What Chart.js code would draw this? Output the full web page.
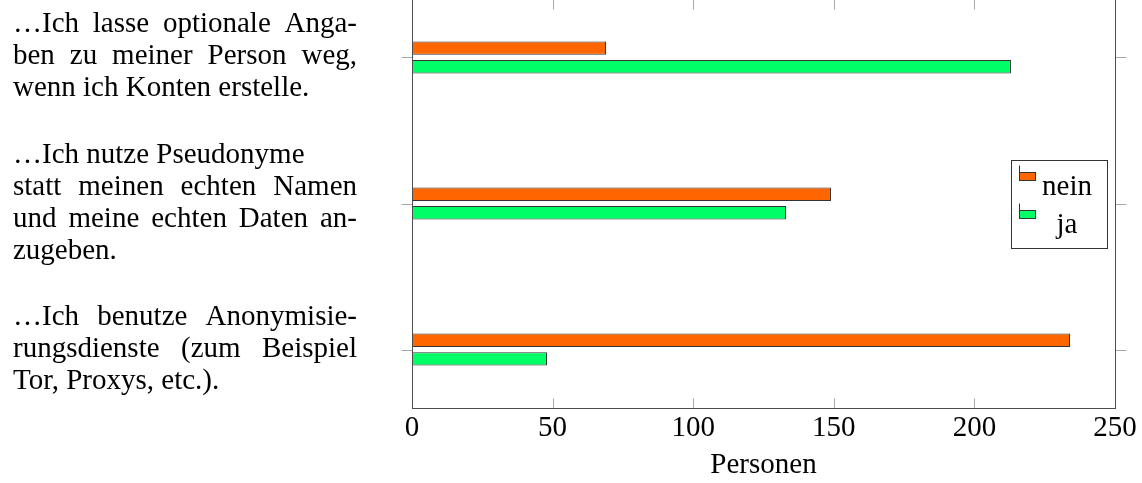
<!DOCTYPE html>
<html>
<head>
<meta charset="utf-8">
<script src="https://cdn.jsdelivr.net/npm/chart.js@4.4.0/dist/chart.umd.min.js"></script>
<style>
html, body { margin: 0; padding: 0; background: #fff; overflow: hidden; }
#wrap { position: relative; width: 1142px; height: 483px; overflow: hidden; }
#chart { position: absolute; left: 0; top: -1px; }
</style>
</head>
<body>
<div id="wrap"><canvas id="chart" width="1142" height="484"></canvas></div>
<script>
// Kategorien von oben nach unten, Zeilen wie im Original umbrochen
const categories = [
    ['\u2026Ich lasse optionale Anga-', 'ben zu meiner Person weg,', 'wenn ich Konten erstelle.'],
    ['\u2026Ich nutze Pseudonyme', 'statt meinen echten Namen', 'und meine echten Daten an-', 'zugeben.'],
    ['\u2026Ich benutze Anonymisie-', 'rungsdienste (zum Beispiel', 'Tor, Proxys, etc.).']
];
const neinValues = [69, 149, 234];
const jaValues = [213, 133, 48];
const xTicks = [0, 50, 100, 150, 200, 250];

const FONT = '"Liberation Serif", "DejaVu Serif", serif';
const FONT_SIZE = 29;
const LINE_H = 32;      // Zeilenabstand der Achsenbeschriftung links
const TEXT_LEFT = 13;   // linker Rand des Blocksatzes
const TEXT_WIDTH = 344; // Breite des Blocksatzes

// Index -> Punkt für die lineare Kategorie-Achse
const toPoints = vals => vals.map((v, i) => ({ x: v, y: i }));

// Rahmen und Teilstriche wie bei pgfplots
const framePlugin = {
    id: 'frame',
    afterDraw(chart) {
        const { ctx, chartArea: a, scales: { x, y } } = chart;
        const L = Math.round(a.left) + 0.5, R = Math.round(a.right) + 0.5;
        const T = Math.round(a.top) + 0.5, B = Math.round(a.bottom) + 0.5;
        ctx.save();
        ctx.lineWidth = 1;
        ctx.strokeStyle = '#a8a8a8';
        ctx.beginPath();
        x.ticks.forEach(t => {
            const px = Math.round(x.getPixelForValue(t.value)) + 0.5;
            ctx.moveTo(px, B); ctx.lineTo(px, B - 10);
            ctx.moveTo(px, T); ctx.lineTo(px, T + 10);
        });
        y.ticks.forEach(t => {
            const py = Math.round(y.getPixelForValue(t.value)) + 0.5;
            ctx.moveTo(L - 11, py); ctx.lineTo(L, py);
            ctx.moveTo(R, py); ctx.lineTo(R + 11, py);
        });
        ctx.stroke();
        ctx.strokeStyle = '#4d4d4d';
        ctx.strokeRect(L, T, R - L, B - T);
        ctx.restore();
    }
};

// Kategorietexte links im Blocksatz, an den Positionen der y-Achse
const labelPlugin = {
    id: 'blockLabels',
    afterDraw(chart) {
        const { ctx, scales: { y } } = chart;
        ctx.save();
        ctx.font = FONT_SIZE + 'px ' + FONT;
        ctx.fillStyle = '#000';
        ctx.textAlign = 'left';
        ctx.textBaseline = 'alphabetic';
        y.ticks.forEach(t => {
            const lines = categories[t.value];
            const py = y.getPixelForValue(t.value);
            lines.forEach((line, k) => {
                const base = py + (k - (lines.length - 1) / 2) * LINE_H + 7;
                ctx.wordSpacing = '0px';
                const spaces = (line.match(/ /g) || []).length;
                const w = ctx.measureText(line).width;
                // kurze Zeilen (manueller Umbruch) und letzte Zeile nicht strecken
                if (k < lines.length - 1 && spaces > 0 && w > TEXT_WIDTH * 0.86) {
                    ctx.wordSpacing = ((TEXT_WIDTH - w) / spaces) + 'px';
                }
                ctx.fillText(line, TEXT_LEFT, base);
            });
        });
        ctx.restore();
    }
};

// Legende im Diagramm, rechts mittig
const legendPlugin = {
    id: 'boxLegend',
    afterDraw(chart) {
        const { ctx, chartArea: a } = chart;
        const w = 96, h = 88;
        const bx = Math.round(a.right - 8 - w) + 0.5;
        const by = Math.round((a.top + a.bottom) / 2 - h / 2) + 0.5;
        ctx.save();
        ctx.fillStyle = '#fff';
        ctx.fillRect(bx, by, w, h);
        ctx.lineWidth = 1;
        ctx.strokeStyle = '#333';
        ctx.strokeRect(bx, by, w, h);
        ctx.font = FONT_SIZE + 'px ' + FONT;
        ctx.textAlign = 'center';
        ctx.textBaseline = 'alphabetic';
        chart.data.datasets.forEach((ds, i) => {
            const top = by + 12 + i * 38;
            ctx.fillStyle = ds.backgroundColor;
            ctx.fillRect(bx + 8, top, 16, 8);
            ctx.strokeStyle = '#333';
            ctx.strokeRect(bx + 8, top, 16, 8);
            ctx.beginPath();
            ctx.moveTo(bx + 8, top - 7); ctx.lineTo(bx + 8, top);
            ctx.stroke();
            ctx.fillStyle = '#000';
            ctx.fillText(ds.label, bx + 55.5, by + 34 + i * 38);
        });
        ctx.restore();
    }
};

const ctx = document.getElementById('chart').getContext('2d');
new Chart(ctx, {
    type: 'bar',
    data: {
        datasets: [{
            label: 'nein',
            data: toPoints(neinValues),
            backgroundColor: '#ff6600',
            borderColor: '#333333',
            borderWidth: 1,
            borderSkipped: false
        }, {
            label: 'ja',
            data: toPoints(jaValues),
            backgroundColor: '#00ff66',
            borderColor: '#333333',
            borderWidth: 1,
            borderSkipped: false
        }]
    },
    options: {
        indexAxis: 'y',
        responsive: false,
        animation: false,
        devicePixelRatio: 1,
        categoryPercentage: 0.255,
        barPercentage: 0.72,
        layout: { padding: { left: 13, right: 27, top: 0, bottom: 0 } },
        plugins: {
            legend: { display: false },
            tooltip: { enabled: false }
        },
        scales: {
            x: {
                type: 'linear',
                position: 'bottom',
                min: 0,
                max: 250,
                afterBuildTicks: s => { s.ticks = xTicks.map(v => ({ value: v })); },
                afterFit: s => { s.height = 75; },
                grid: { display: false, drawTicks: false },
                border: { display: false },
                ticks: {
                    color: '#000',
                    padding: 3,
                    maxRotation: 0,
                    autoSkip: false,
                    font: { family: FONT, size: FONT_SIZE }
                },
                title: {
                    display: true,
                    text: 'Personen',
                    color: '#000',
                    padding: { top: 0, bottom: 0 },
                    font: { family: FONT, size: FONT_SIZE }
                }
            },
            y: {
                type: 'linear',
                position: 'left',
                reverse: true,
                offset: false,
                min: -0.4,
                max: 2.4,
                afterBuildTicks: s => { s.ticks = categories.map((_, i) => ({ value: i })); },
                afterFit: s => { s.width = 399; s.paddingTop = 0; s.paddingBottom = 0; },
                grid: { display: false, drawTicks: false },
                border: { display: false },
                ticks: { display: false, autoSkip: false }
            }
        }
    },
    plugins: [framePlugin, labelPlugin, legendPlugin]
});
</script>
</body>
</html>
